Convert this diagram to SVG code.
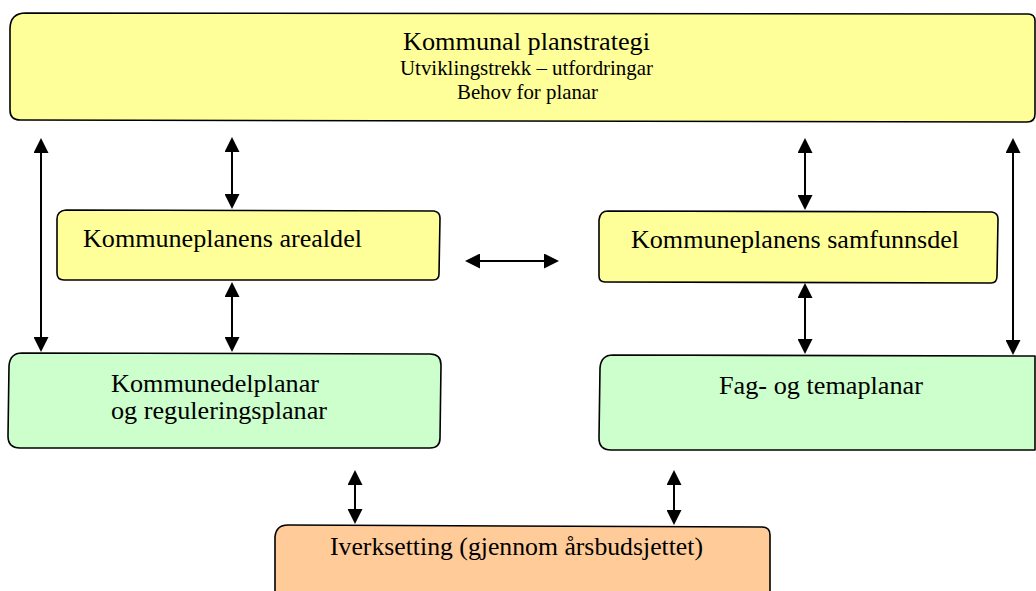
<svg xmlns="http://www.w3.org/2000/svg" width="1036" height="591" viewBox="0 0 1036 591">
<style>
.box{stroke:#000;stroke-width:1.6;stroke-linejoin:round}
.y{fill:#FFFF99}
.g{fill:#CCFFCC}
.o{fill:#FFCC99}
text{font-family:'Liberation Serif','Times New Roman','DejaVu Serif',serif;fill:#000}
.big{font-size:26px}
.small{font-size:21px}
.ar{stroke:#000;stroke-width:2;fill:none;marker-start:url(#ah);marker-end:url(#ah)}
</style>
<defs>
<marker id="ah" viewBox="0 0 15 15" refX="7" refY="7.5" markerWidth="15" markerHeight="15" markerUnits="userSpaceOnUse" orient="auto-start-reverse">
<path d="M0,0 L15,7.5 L0,15 Z" fill="#000"/>
</marker>
</defs>
<rect width="1036" height="591" fill="#fff"/>
<g id="planstrategi">
<path class="box y" d="M26,13 L1028,14 Q1035,14 1035,21 L1035,114 Q1035,122 1027,122 L20,120 Q10,120 10,110 L10,29 Q10,13 26,13 Z"/>
<text class="big" x="403" y="50" font-family="Liberation Serif, serif" textLength="247" lengthAdjust="spacingAndGlyphs">Kommunal planstrategi</text>
<text class="small" x="400" y="75" font-family="Liberation Serif, serif" textLength="253" lengthAdjust="spacingAndGlyphs">Utviklingstrekk – utfordringar</text>
<text class="small" x="457" y="99" font-family="Liberation Serif, serif" textLength="141" lengthAdjust="spacingAndGlyphs">Behov for planar</text>
</g>
<g id="arealdel">
<path class="box y" d="M66,210 L434,211 Q440,212 440,218 L439,274 Q439,280 433,280 L64,280 Q57,280 57,273 L57,219 Q57,211 66,210 Z"/>
<text class="big" x="83" y="247" font-family="Liberation Serif, serif" textLength="279" lengthAdjust="spacingAndGlyphs">Kommuneplanens arealdel</text>
</g>
<g id="samfunnsdel">
<path class="box y" d="M608,211 L992,212 Q998,213 998,219 L997,276 Q997,283 991,283 L605,282 Q599,282 599,276 L599,220 Q600,211 608,211 Z"/>
<text class="big" x="631" y="248" font-family="Liberation Serif, serif" textLength="328" lengthAdjust="spacingAndGlyphs">Kommuneplanens samfunnsdel</text>
</g>
<g id="kommunedelplanar">
<path class="box g" d="M22,353 L430,354 Q441,354 441,365 L440,438 Q440,448 430,448 L20,448 Q8,448 8,436 L9,366 Q10,353 22,353 Z"/>
<text class="big" x="111" y="392" font-family="Liberation Serif, serif" textLength="208" lengthAdjust="spacingAndGlyphs">Kommunedelplanar</text>
<text class="big" x="111" y="419" font-family="Liberation Serif, serif" textLength="216" lengthAdjust="spacingAndGlyphs">og reguleringsplanar</text>
</g>
<g id="fagplanar">
<path class="box g" d="M613,355 L1035,356 L1035,450 L611,450 Q599,450 599,438 L600,368 Q601,355 613,355 Z"/>
<text class="big" x="719" y="394" font-family="Liberation Serif, serif" textLength="204" lengthAdjust="spacingAndGlyphs">Fag- og temaplanar</text>
</g>
<g id="iverksetting">
<path class="box o" d="M275,600 L275,537 Q276,525 288,525 L762,527 Q770,527 770,535 L770,600 Z"/>
<text class="big" x="330" y="555" font-family="Liberation Serif, serif" textLength="373" lengthAdjust="spacingAndGlyphs">Iverksetting (gjennom årsbudsjettet)</text>
</g>
<g id="connectors">
<line class="ar" x1="41" y1="146" x2="41" y2="344"/>
<line class="ar" x1="232" y1="145" x2="232" y2="201"/>
<line class="ar" x1="232" y1="290" x2="232" y2="344"/>
<line class="ar" x1="805" y1="146" x2="805" y2="202"/>
<line class="ar" x1="805" y1="291" x2="805" y2="346"/>
<line class="ar" x1="1013" y1="146" x2="1013" y2="347"/>
<line class="ar" x1="473" y1="261" x2="551" y2="261"/>
<line class="ar" x1="355" y1="478" x2="355" y2="516"/>
<line class="ar" x1="674" y1="478" x2="674" y2="517"/>
</g>
</svg>
